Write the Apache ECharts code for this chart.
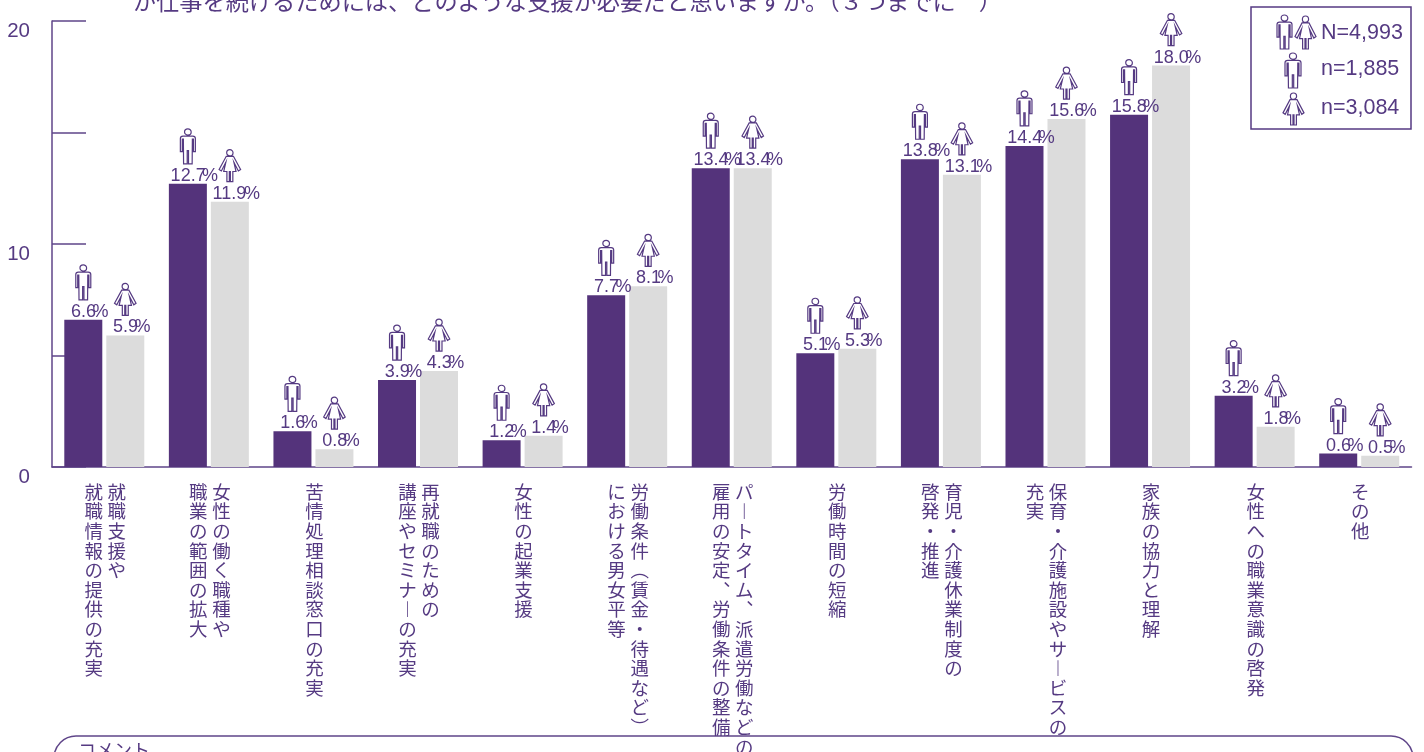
<!DOCTYPE html>
<html lang="ja">
<head>
<meta charset="utf-8">
<style>html,body{margin:0;padding:0;background:#fff;overflow:hidden}#c{width:1424px;height:752px}</style>
<script src="https://cdn.jsdelivr.net/npm/echarts@6/dist/echarts.min.js"></script>
</head>
<body>
<div id="c"></div>
<script>
const titleText = 'が仕事を続けるためには、どのような支援が必要だと思いますか。（３つまでに　）';
const commentText = 'コメント';
const categories = [
  '就職支援や\n就職情報の提供の充実',
  '女性の働く職種や\n職業の範囲の拡大',
  '苦情処理相談窓口の充実',
  '再就職のための\n講座やセミナーの充実',
  '女性の起業支援',
  '労働条件（賃金・待遇など）\nにおける男女平等',
  'パートタイム、派遣労働などの\n雇用の安定、労働条件の整備',
  '労働時間の短縮',
  '育児・介護休業制度の\n啓発・推進',
  '保育・介護施設やサービスの\n充実',
  '家族の協力と理解',
  '女性への職業意識の啓発',
  'その他'
];
const menValues   = [6.6, 12.7, 1.6, 3.9, 1.2, 7.7, 13.4, 5.1, 13.8, 14.4, 15.8, 3.2, 0.6];
const womenValues = [5.9, 11.9, 0.8, 4.3, 1.4, 8.1, 13.4, 5.3, 13.1, 15.6, 18.0, 1.8, 0.5];
const legendRows = ['N=4,993', 'n=1,885', 'n=3,084'];

const INK = '#553a82', BAR = '#54337b', GREY = '#dcdcdc', LINE = '#5f4589';
const LATIN = '"Liberation Sans", Arial, sans-serif';
const CJK = '"Noto Sans CJK JP", sans-serif';

const MAN = 'M7,0.4 A3.1,3.1 0 1 1 6.99,0.4 Z M2.4,7.6 L11.6,7.6 Q14,7.6 14,10 L14,23 L12.2,23 L12.2,10.5 L11.2,10.5 L11,35 L7.6,35 L7.6,22 L6.4,22 L6.4,35 L3,35 L2.8,10.5 L1.8,10.5 L1.8,23 L0,23 L0,10 Q0,7.6 2.4,7.6 Z';
const WOMAN = 'M10.5,0.4 A3.1,3.1 0 1 1 10.49,0.4 Z M7,7 L14,7 L21,20 L18.8,21.5 L14.5,13 L16.5,22 L13.4,22 L13.4,32 L11,32 L11,22 L10,22 L10,32 L7.6,32 L7.6,22 L4.5,22 L6.5,13 L2.2,21.5 L0,20 Z';

function vertical(s){
  return Array.from(s.replace(/ー/g,'︱').replace(/、/g,'︑').replace(/（/g,'︵').replace(/）/g,'︶'));
}
function stackLabel(v){
  const parts = v.split('\n').map(vertical);
  if(parts.length === 1) return parts[0].join('\n');
  const n = Math.max(parts[0].length, parts[1].length), rows = [];
  for(let i=0;i<n;i++) rows.push((parts[1][i]||'\u3000') + '\u2005' + (parts[0][i]||'\u3000'));
  return rows.join('\n');
}
function icon(path, x, y, w, h){
  return {type:'path', shape:{pathData:path, layout:'cover', x:x, y:y, width:w, height:h},
          style:{fill:'#fff', stroke:INK, lineWidth:1.2}};
}
function markers(isMan){
  return function(params, api){
    const p = api.coord([api.value(0), api.value(1)]);
    const c = p[0] + (isMan ? -21 : 21), top = p[1];
    const num = api.value(1).toFixed(1);
    const w = num.length === 4 ? 35 : 25;
    const left = c + 6 - (w + 11.5) / 2;
    const style = {fill: INK, font: '18px ' + LATIN, verticalAlign: 'bottom'};
    const iw = isMan ? 15 : 21.5, ih = isMan ? 35 : 32;
    return {type:'group', silent:true, children:[
      icon(isMan?MAN:WOMAN, c-iw/2, top-20-ih, iw, ih),
      {type:'text', x:left, y:top+1, style:Object.assign({text:num, align:'left'}, style)},
      {type:'text', x:left+w-3.5, y:top+1, style:Object.assign({text:'%', align:'left'}, style)}
    ]};
  };
}
function legendIcons(){
  return {type:'group', silent:true, children:[
    icon(MAN, 1277, 15, 15, 34), icon(WOMAN, 1295, 16, 21, 33),
    icon(MAN, 1285, 53, 16, 35), icon(WOMAN, 1283, 93, 21, 32)
  ]};
}
const chart = echarts.init(document.getElementById('c'), null, {renderer:'canvas', width:1424, height:752});
chart.setOption({
  animation:false,
  backgroundColor:'#fff',
  title:{text:titleText, left:133, top:-10, padding:0,
    textStyle:{color:INK, fontFamily:CJK, fontWeight:'normal', fontSize:23.2}},
  grid:{left:52, right:12.5, top:21, bottom:285, containLabel:false, outerBoundsMode:'none'},
  xAxis:{type:'category', data:categories,
    axisLine:{lineStyle:{color:LINE, width:1.5}}, axisTick:{show:false},
    axisLabel:{interval:0, margin:15, color:INK, fontFamily:CJK, fontSize:18.5, lineHeight:19.6, padding:[0,0,0,2],
      hideOverlap:false, formatter:stackLabel}},
  yAxis:{type:'value', min:0, max:20, interval:5, splitLine:{show:false},
    axisLine:{show:true, lineStyle:{color:LINE, width:1.5}},
    axisTick:{show:true, inside:true, length:34, lineStyle:{color:LINE, width:1.5}},
    axisLabel:{margin:22, color:INK, fontFamily:LATIN, fontSize:20.5, verticalAlign:'top', lineHeight:20,
      formatter:v => v % 10 === 0 ? String(v) : ''}},
  series:[
    {name:'男性', type:'bar', data:menValues, barWidth:38, barGap:'10.5%', itemStyle:{color:BAR}},
    {name:'女性', type:'bar', data:womenValues, barWidth:38, itemStyle:{color:GREY}},
    {name:'男性ラベル', type:'custom', z:5, clip:false, silent:true, renderItem:markers(true),
      encode:{x:0,y:1}, data:menValues.map((v,i)=>[i,v])},
    {name:'女性ラベル', type:'custom', z:5, clip:false, silent:true, renderItem:markers(false),
      encode:{x:0,y:1}, data:womenValues.map((v,i)=>[i,v])},
    {name:'凡例', type:'custom', coordinateSystem:'none', z:20, silent:true, renderItem:legendIcons, data:[[0]]}
  ],
  graphic:[
    {type:'rect', silent:true, z:1, shape:{x:1251, y:7, width:160, height:122}, style:{fill:'none', stroke:INK, lineWidth:1.5}},
    {type:'text', silent:true, z:11, x:1321, y:33, style:{text:legendRows[0], fill:INK, font:'21.5px '+LATIN, verticalAlign:'middle'}},
    {type:'text', silent:true, z:11, x:1321, y:69, style:{text:legendRows[1], fill:INK, font:'21.5px '+LATIN, verticalAlign:'middle'}},
    {type:'text', silent:true, z:11, x:1321, y:108, style:{text:legendRows[2], fill:INK, font:'21.5px '+LATIN, verticalAlign:'middle'}},
    {type:'rect', silent:true, z:-1, shape:{x:54, y:736, width:1359, height:60, r:22}, style:{fill:'none', stroke:LINE, lineWidth:1.5}},
    {type:'text', silent:true, z:11, x:78, y:741, style:{text:commentText, fill:INK, font:'18px '+CJK, verticalAlign:'top'}}
  ]
});
</script>
</body>
</html>
